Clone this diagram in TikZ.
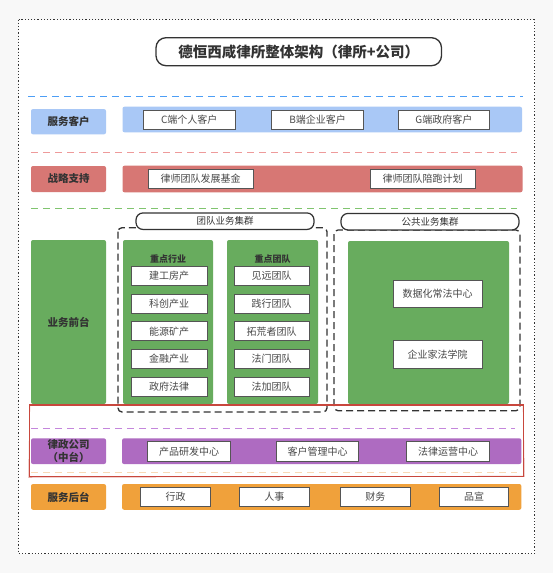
\documentclass[tikz,border=0pt]{standalone}
\usepackage{fontspec}
\setmainfont{Noto Sans CJK SC}
\definecolor{bgc}{HTML}{F8F8F8}
\definecolor{blueF}{HTML}{A9C8F6}
\definecolor{blueD}{HTML}{4D9EF5}
\definecolor{redF}{HTML}{D77774}
\definecolor{redD}{HTML}{EE9A9A}
\definecolor{greenF}{HTML}{68AC5E}
\definecolor{greenD}{HTML}{80C46F}
\definecolor{purpF}{HTML}{AE6BC1}
\definecolor{purpD}{HTML}{C486DC}
\definecolor{oranF}{HTML}{F0A13B}
\definecolor{oranD}{HTML}{F9D9B5}
\definecolor{sketchR}{HTML}{C8473D}
\definecolor{ink}{HTML}{333333}
\definecolor{boxline}{HTML}{555555}
\definecolor{boxtext}{HTML}{484848}
\tikzset{
  every node/.style={inner sep=0pt, outer sep=0pt},
  sepline/.style={line width=1.3pt, dash pattern=on 7pt off 5pt},
  lbl/.style={rounded corners=2pt, minimum width=75pt, text=ink, font=\fontsize{10.5}{12}\selectfont\bfseries, align=center},
  bar/.style={rounded corners=2pt},
  ibox/.style={draw=boxline, line width=0.9pt, fill=white, text=boxtext, font=\fontsize{10}{12}\selectfont},
  hdr/.style={text=ink, font=\fontsize{9}{11}\selectfont\bfseries},
  pill/.style={draw=ink, line width=1.2pt, fill=white, rounded corners=7pt, text=ink, font=\fontsize{9.5}{11}\selectfont},
  grp/.style={draw=ink, line width=1.3pt, dash pattern=on 7pt off 4pt, rounded corners=4pt},
}
\begin{document}
\begin{tikzpicture}[x=1pt,y=-1pt]
\useasboundingbox (0,0) rectangle (553,573);
\fill[bgc] (0,0) rectangle (553,573);
\draw[draw=ink, fill=white, line width=1.3pt, dash pattern=on 1.2pt off 2pt] (18.5,19.5) rectangle (534.5,553.5);

% title
\node[draw=ink, line width=1.3pt, rounded corners=10pt, fill=white, minimum width=285.5pt, minimum height=28pt, text=ink, font=\fontsize{14.5}{16}\selectfont\bfseries] (title) at (298.75,51.7) {德恒西咸律所整体架构（律所+公司）};

% separator lines
\coordinate (b1) at (28,96.7); \coordinate (b2) at (522.7,96.7);
\draw[sepline, blueD] (b1) -- (b2);
\coordinate (r1) at (31,152.7); \coordinate (r2) at (517,152.7);
\draw[sepline, redD] (r1) -- (r2);
\coordinate (g1) at (31,208.7); \coordinate (g2) at (517,208.7);
\draw[sepline, greenD] (g1) -- (g2);
\coordinate (p1) at (31,428.3); \coordinate (p2) at (515,428.3);
\draw[sepline, purpD] (p1) -- (p2);
\coordinate (o1) at (31,472.7); \coordinate (o2) at (517,472.7);
\draw[sepline, oranD] (o1) -- (o2);

% row 1
\node[lbl, fill=blueF, minimum height=25.3pt] (l1) at (68.5,121.7) {服务客户};
\node[bar, fill=blueF, minimum width=399.5pt, minimum height=25.6pt] (bar1) at (322.25,119.5) {};
\node[ibox, minimum width=91.5pt, minimum height=18.7pt] (c1) at (189.2,119.7) {C端个人客户};
\node[ibox, minimum width=91.5pt, minimum height=18.7pt] (c2) at (317.6,119.7) {B端企业客户};
\node[ibox, minimum width=91.5pt, minimum height=18.7pt] (c3) at (443.8,119.7) {G端政府客户};

% row 2
\node[lbl, fill=redF, minimum height=26pt] (l2) at (68.5,179) {战略支持};
\node[bar, fill=redF, minimum width=400pt, minimum height=26.6pt] (bar2) at (322.5,179) {};
\node[ibox, minimum width=105pt, minimum height=19pt] (s1) at (200.5,178.5) {律师团队发展基金};
\node[ibox, minimum width=105pt, minimum height=19pt] (s2) at (422.5,178.5) {律师团队陪跑计划};

% row 3 groups
\draw[grp] (118,227.7) rectangle (327,412);
\draw[grp] (334,230) rectangle (520,410.7);
\node[lbl, fill=greenF, minimum height=164pt] (l3) at (68.5,322) {业务前台};
\node[bar, fill=greenF, minimum width=90pt, minimum height=164pt] (gA) at (168,322) {};
\node[bar, fill=greenF, minimum width=91pt, minimum height=164pt] (gB) at (272.5,322) {};
\node[bar, fill=greenF, minimum width=161pt, minimum height=163pt] (gC) at (428.5,322.5) {};
\node[pill, minimum width=178pt, minimum height=16.5pt] (team) at (225,221.2) {团队业务集群};
\node[pill, minimum width=178pt, minimum height=16.5pt] (pub) at (430,221.7) {公共业务集群};
\node[hdr] (hA) at (168,259) {重点行业};
\node[hdr] (hB) at (272.5,259) {重点团队};
\foreach \t [count=\i from 0] in {建工房产,科创产业,能源矿产,金融产业,政府法律}{
  \node[ibox, minimum width=76pt, minimum height=19pt] (a\i) at (169,276+27.65*\i) {\t};
}
\foreach \t [count=\i from 0] in {见远团队,践行团队,拓荒者团队,法门团队,法加团队}{
  \node[ibox, minimum width=75.3pt, minimum height=19pt] (t\i) at (271.7,276+27.65*\i) {\t};
}
\node[ibox, minimum width=89pt, minimum height=27.7pt] (pc1) at (437.5,293.8) {数据化常法中心};
\node[ibox, minimum width=89pt, minimum height=28.3pt] (pc2) at (437.5,354.2) {企业家法学院};

% sketch red frame
\draw[sketchR, line width=1.3pt] (29.3,405) rectangle (523.7,476.7);
\draw[sketchR, line width=0.6pt, opacity=0.7] (29.8,404.4) -- (523.2,405.6) -- (524.2,476.2) -- (28.8,477.2) -- cycle;

% row 4
\node[lbl, fill=purpF, minimum height=25.7pt, font=\fontsize{10.5}{13}\selectfont\bfseries] (l4) at (68.5,451.2) {律政公司\\（中台）};
\node[bar, fill=purpF, minimum width=399.3pt, minimum height=25.7pt] (bar4) at (321.7,451.2) {};
\node[ibox, minimum width=83pt, minimum height=19.3pt] (m1) at (189.2,451.3) {产品研发中心};
\node[ibox, minimum width=82.2pt, minimum height=19.3pt] (m2) at (317.6,451.3) {客户管理中心};
\node[ibox, minimum width=82.6pt, minimum height=19.3pt] (m3) at (448,451.3) {法律运营中心};

% row 5
\node[lbl, fill=oranF, minimum height=25.7pt] (l5) at (68.5,496.9) {服务后台};
\node[bar, fill=oranF, minimum width=399.3pt, minimum height=25.7pt] (bar5) at (321.7,496.9) {};
\node[ibox, minimum width=70.4pt, minimum height=19.4pt] (k1) at (175.5,497) {行政};
\node[ibox, minimum width=70pt, minimum height=19.4pt] (k2) at (274.3,497) {人事};
\node[ibox, minimum width=70pt, minimum height=19.4pt] (k3) at (375.3,497) {财务};
\node[ibox, minimum width=69.4pt, minimum height=19.4pt] (k4) at (474,497) {品宣};
\end{tikzpicture}
\end{document}
